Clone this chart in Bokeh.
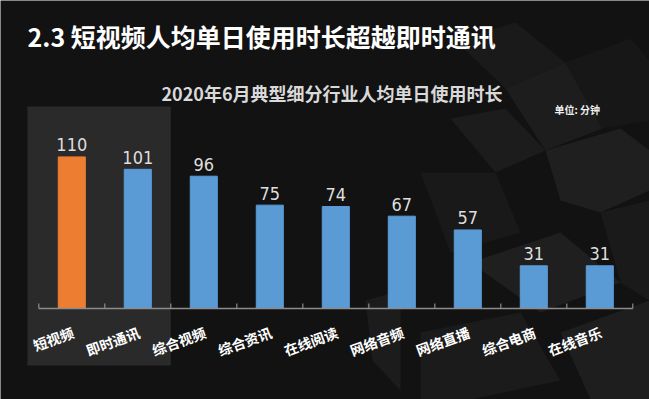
import math
from bokeh.plotting import figure
from bokeh.models import Range1d, BoxAnnotation, Label
from bokeh.core.properties import value
from bokeh.embed import file_html
from bokeh.resources import INLINE

# ---- data ----
categories = ["短视频", "即时通讯", "综合视频", "综合资讯", "在线阅读",
              "网络音频", "网络直播", "综合电商", "在线音乐"]
minutes = [110, 101, 96, 75, 74, 67, 57, 31, 31]
value_labels = ["110", "101", "96", "75", "74", "67", "57", "31", "31"]
highlighted = ["短视频"]
highlight_group = ["短视频", "即时通讯"]

title_text = "2.3 短视频人均单日使用时长超越即时通讯"
subtitle_text = "2020年6月典型细分行业人均单日使用时长"
unit_text = "单位: 分钟"

# ---- layout (page pixels) ----
W, H = 649, 399
AXIS_X0 = 38.3       # page x of the left end of the category axis
PX_PER_CAT = 66.0
BASE_Y = 308.0       # page y of the value 0 baseline
PX_PER_UNIT = 1.378


def xr(px):
    return (px - AXIS_X0) / PX_PER_CAT


def yr(py):
    return (BASE_Y - py) / PX_PER_UNIT


ORANGE = "#ED7D31"
BLUE = "#5B9BD5"
BG = "#121212"
CJK = "Noto Sans CJK SC"

p = figure(width=W, height=H, output_backend="svg", toolbar_location=None,
           x_range=Range1d(xr(0), xr(W)),
           y_range=Range1d(yr(H), yr(0)),
           x_axis_location=None, y_axis_location=None, min_border=0)
p.background_fill_color = BG
p.border_fill_color = BG
p.outline_line_color = None
p.grid.visible = False

# faint geometric background facets (decoration, page pixels)
facets = [
    ([455, 515, 565, 505], [40, 22, 62, 88], "#1a1a1a"),
    ([505, 565, 602, 545], [88, 62, 128, 150], "#1d1d1d"),
    ([565, 630, 649, 649, 602], [62, 38, 60, 120, 128], "#171717"),
    ([450, 505, 545, 495], [118, 108, 150, 172], "#1c1c1c"),
    ([420, 495, 520, 450], [172, 172, 232, 252], "#191919"),
    ([545, 620, 649, 649, 600, 560], [150, 128, 150, 190, 212, 200], "#1f1f1f"),
    ([470, 560, 620, 540], [262, 232, 282, 312], "#1f1f1f"),
    ([420, 520, 560, 470, 420], [332, 312, 380, 399, 399], "#1b1b1b"),
    ([560, 649, 649, 590], [332, 300, 399, 399], "#1e1e1e"),
    ([365, 400, 400, 372], [300, 290, 390, 360], "#1c1c1c"),
    ([600, 649, 649, 620], [212, 200, 300, 282], "#1a1a1a"),
]
p.patches(xs=[[xr(v) for v in f[0]] for f in facets],
          ys=[[yr(v) for v in f[1]] for f in facets],
          fill_color=[f[2] for f in facets], line_color=None, level="underlay")

# highlight panel behind the first two categories
n_hl = len(highlight_group)
p.add_layout(BoxAnnotation(left=xr(27), right=n_hl, top=yr(106), bottom=yr(365),
                           fill_color="#2b2a2b", fill_alpha=1.0, line_color=None,
                           level="underlay"))

xs = [i + 0.5 for i in range(len(categories))]
colors = [ORANGE if c in highlighted else BLUE for c in categories]

p.vbar(x=xs, top=minutes, bottom=0, width=0.41, fill_color=colors,
       line_color=colors)

# axis line + boundary ticks
n = len(categories)
p.segment(x0=[0], y0=[0], x1=[n], y1=[0], line_color="#8c8c8c", line_width=1.5)
tick_x = list(range(n + 1))
p.segment(x0=tick_x, y0=[0] * (n + 1), x1=tick_x, y1=[5 / PX_PER_UNIT] * (n + 1),
          line_color="#8c8c8c", line_width=1.2)

# value labels
p.text(x=xs, y=[m + 12 / PX_PER_UNIT for m in minutes], text=value_labels,
       text_align="center", text_baseline="alphabetic",
       text_font=value("DejaVu Sans Condensed, sans-serif"), text_font_size="18px",
       text_color="#dedede")

# category labels (rotated)
p.text(x=[x + 0.02 for x in xs], y=[-23 / PX_PER_UNIT] * n, text=categories,
       angle=math.radians(20), text_align="right", text_baseline="middle",
       text_font=value(CJK), text_font_style="bold", text_font_size="14px",
       text_color="#ffffff")

# titles
p.add_layout(Label(x=xr(27), y=yr(35), text=title_text, text_align="left",
                   text_baseline="middle", text_font=CJK, text_font_style="bold",
                   text_font_size="25px", text_color="#ffffff"))
p.add_layout(Label(x=xr(331.5), y=yr(92), text=subtitle_text, text_align="center",
                   text_baseline="middle", text_font=CJK, text_font_style="bold",
                   text_font_size="18px", text_color="#d9d9d9"))
p.add_layout(Label(x=xr(554), y=yr(109), text=unit_text, text_align="left",
                   text_baseline="middle", text_font=CJK, text_font_style="bold",
                   text_font_size="10px", text_color="#eeeeee"))

open("out.html", "w").write(file_html(p, INLINE))
